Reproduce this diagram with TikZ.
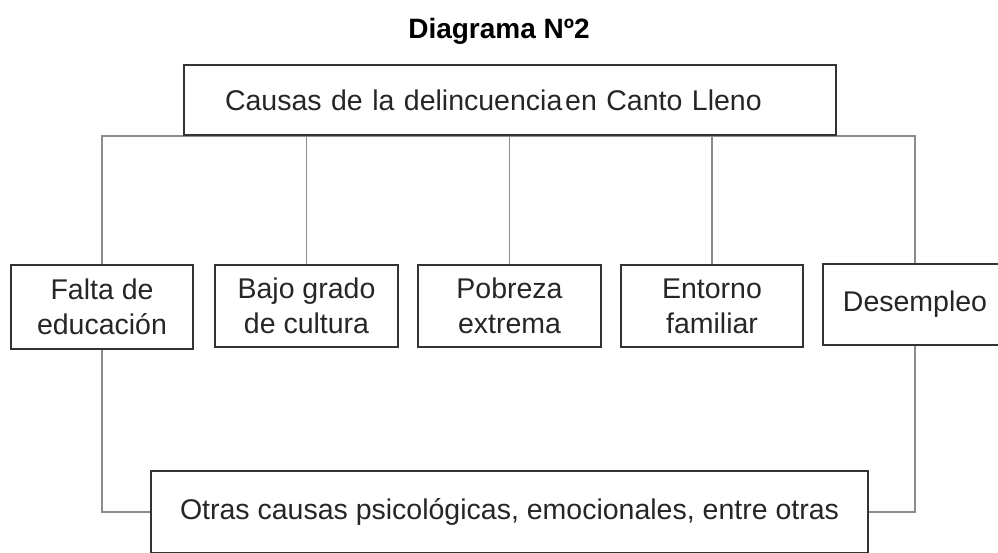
\documentclass[tikz,border=0pt]{standalone}
\usepackage{fontspec}
\setmainfont{Liberation Sans}
\usetikzlibrary{backgrounds}
\begin{document}
\begin{tikzpicture}[x=1pt, y=-1pt,
    causa/.style={draw=black!80, line width=1.6pt, fill=white, align=center,
      inner sep=0pt, text=black!85, font=\fontsize{28.5}{35}\selectfont},
    enlace/.style={draw=black!45, line width=1.5pt}]
  \useasboundingbox (0,0) rectangle (998,552);
  \node[anchor=base, font=\bfseries\fontsize{28}{33}\selectfont] (titulo) at (499,38) {Diagrama Nº2};
  % caja principal
  \node[causa, minimum height=70pt, text width=570pt, inner xsep=41pt, align=left] (causas) at (510,100)
    {Causas de la delincuencia\hspace{0.1em}en Canto Lleno};
  % causas
  \node[causa, minimum width=182pt, minimum height=84pt] (falta) at (102,307) {Falta de\\educación};
  \node[causa, minimum width=183pt, minimum height=82pt] (bajo) at (306.5,306) {Bajo grado\\de cultura};
  \node[causa, minimum width=183pt, minimum height=82pt] (pobreza) at (509.5,306) {Pobreza\\extrema};
  \node[causa, minimum width=182pt, minimum height=82pt] (entorno) at (712,306) {Entorno\\familiar};
  \node[causa, minimum width=184pt, minimum height=81pt] (desempleo) at (915,304.5) {Desempleo};
  \node[causa, minimum width=717pt, minimum height=82pt] (otras) at (509.5,512)
    {Otras causas psicológicas, emocionales, entre otras};
  \begin{scope}[on background layer]
    \draw[enlace] (falta.north) |- (causas.south -| desempleo.north) -- (desempleo.north);
    \foreach \c in {bajo,pobreza,entorno}
      \draw[enlace] (\c.north) -- (\c.north |- causas.south);
    \draw[enlace] (falta.south) |- (otras.west);
    \draw[enlace] (desempleo.south) |- (otras.east);
  \end{scope}
\end{tikzpicture}
\end{document}
